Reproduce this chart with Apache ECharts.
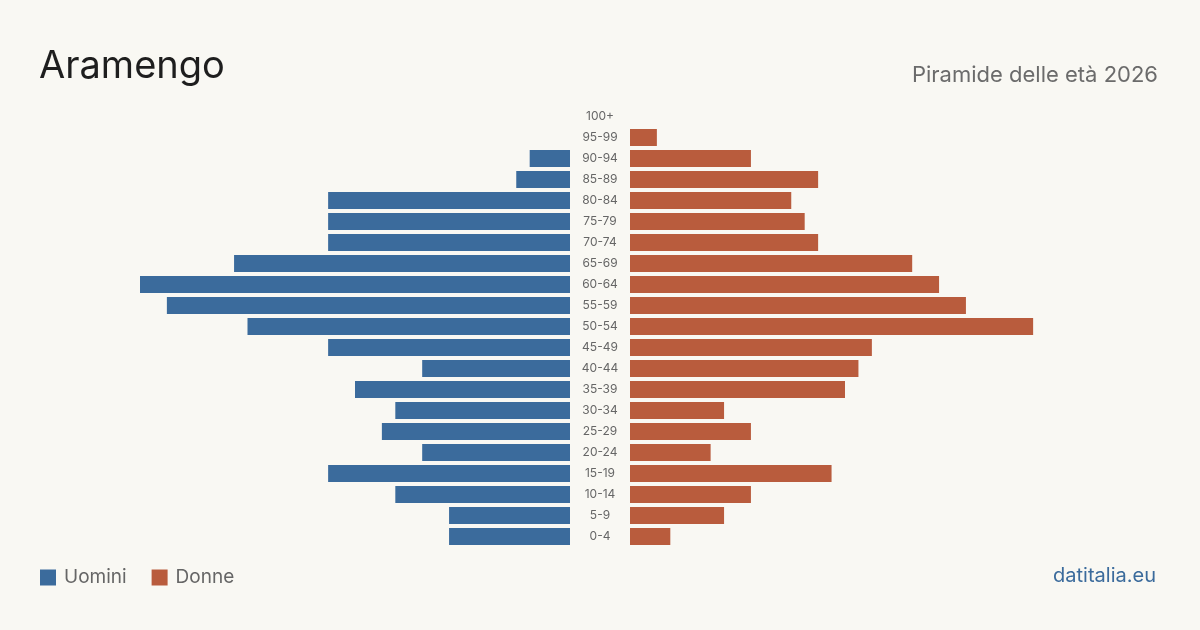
<!DOCTYPE html>
<html>
<head>
<meta charset="utf-8">
<script src="https://cdn.jsdelivr.net/npm/echarts@6/dist/echarts.min.js"></script>
<style>
  html, body { margin: 0; padding: 0; background: #f9f8f3; }
  #chart { width: 1200px; height: 630px; }
</style>
</head>
<body>
<div id="chart"></div>
<script>
  // fasce d'età, dall'alto in basso
  var ageGroups = ['100+', '95-99', '90-94', '85-89', '80-84', '75-79', '70-74', '65-69', '60-64', '55-59',
    '50-54', '45-49', '40-44', '35-39', '30-34', '25-29', '20-24', '15-19', '10-14', '5-9', '0-4'];
  var maleValues = [0, 0, 3, 4, 18, 18, 18, 25, 32, 30, 24, 18, 11, 16, 13, 14, 11, 18, 13, 9, 9];
  var femaleValues = [0, 2, 9, 14, 12, 13, 14, 21, 23, 25, 30, 18, 17, 16, 7, 9, 6, 15, 9, 7, 3];
  var axisMax = 32;

  var blue = '#3b6b9c';
  var orange = '#b95c3d';
  var font = 'Inter, "Noto Sans", sans-serif';

  var myChart = echarts.init(document.getElementById('chart'));
  var option = {
    backgroundColor: '#f9f8f3',
    animation: false,
    textStyle: { fontFamily: font },
    title: [
      {
        text: 'Aramengo',
        left: 39, top: 48, padding: 0,
        textStyle: { fontSize: 38, fontWeight: 'normal', color: '#1e1e1e', fontFamily: font }
      },
      {
        text: 'Piramide delle età 2026',
        right: 42, top: 64, padding: 0,
        textStyle: { fontSize: 22, fontWeight: 'normal', color: '#6b6b6b', fontFamily: font }
      },
      {
        text: 'datitalia.eu',
        right: 44, top: 566, padding: 0,
        textStyle: { fontSize: 20, fontWeight: 'normal', color: '#3b6b9c', fontFamily: font }
      }
    ],
    legend: {
      left: 40, top: 568, padding: 0,
      itemWidth: 16, itemHeight: 16, itemGap: 25,
      icon: 'rect',
      textStyle: { fontSize: 19, color: '#666', fontFamily: font, padding: [0, 0, 0, 3] },
      data: ['Uomini', 'Donne']
    },
    grid: [
      { left: 140, width: 430, top: 106, height: 441 },
      { left: 630, width: 430, top: 106, height: 441 }
    ],
    xAxis: [
      { gridIndex: 0, type: 'value', min: 0, max: axisMax, inverse: true, show: false },
      { gridIndex: 1, type: 'value', min: 0, max: axisMax, show: false }
    ],
    yAxis: [
      {
        gridIndex: 0, type: 'category', data: ageGroups, inverse: true,
        position: 'right',
        axisLine: { show: false }, axisTick: { show: false },
        axisLabel: { margin: 30, align: 'center', fontSize: 12, color: '#666', fontFamily: font }
      },
      {
        gridIndex: 1, type: 'category', data: ageGroups, inverse: true,
        axisLine: { show: false }, axisTick: { show: false }, axisLabel: { show: false }
      }
    ],
    series: [
      {
        name: 'Uomini', type: 'bar', xAxisIndex: 0, yAxisIndex: 0,
        data: maleValues, barWidth: 17, itemStyle: { color: blue }
      },
      {
        name: 'Donne', type: 'bar', xAxisIndex: 1, yAxisIndex: 1,
        data: femaleValues, barWidth: 17, itemStyle: { color: orange }
      }
    ]
  };
  myChart.setOption(option);
</script>
</body>
</html>
